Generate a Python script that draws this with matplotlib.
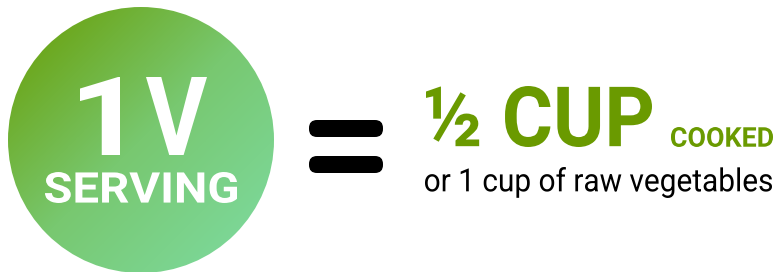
import numpy as np
import matplotlib
matplotlib.use('Agg')
import matplotlib.pyplot as plt
from matplotlib.patches import Circle, FancyBboxPatch, PathPatch
from matplotlib.colors import LinearSegmentedColormap
from matplotlib.textpath import TextPath
from matplotlib.font_manager import FontProperties
from matplotlib.transforms import Affine2D

# texts and colours
big_label = ['1', 'V']
small_label = 'SERVING'
amount = '½ CUP'
amount_note = 'COOKED'
sub_line = 'or 1 cup of raw vegetables'
green = '#6a9a00'
grad_colors = ['#689c00', '#78c870', '#7edca4']

fig = plt.figure(figsize=(7.8, 2.72), dpi=100)
ax = fig.add_axes([0, 0, 1, 1])
ax.set_xlim(0, 780)
ax.set_ylim(272, 0)
ax.axis('off')

# gradient circle
cx, cy, r = 141, 140, 133
cmap = LinearSegmentedColormap.from_list('g', grad_colors)
xx, yy = np.meshgrid(np.linspace(0, 1, 300), np.linspace(0, 1, 300))
grad = (xx + yy) / 2
im = ax.imshow(grad, cmap=cmap, extent=[cx - r, cx + r, cy + r, cy - r], origin='upper', zorder=1)
clip = Circle((cx, cy), r, transform=ax.transData, facecolor='none', edgecolor='none')
ax.add_patch(clip)
im.set_clip_path(clip)


# text drawn as a path, stretched into the box (x0..x1, top..bottom of ink)
def box_text(txt, x0, x1, top, bottom, color, family='Roboto', weight='bold'):
    fp = FontProperties(family=family, weight=weight)
    tp = TextPath((0, 0), txt, size=10, prop=fp)
    b = tp.get_extents()
    sx = (x1 - x0) / b.width
    sy = (bottom - top) / b.height
    tr = Affine2D().translate(-b.x0, -b.y0).scale(sx, -sy).translate(x0, bottom)
    ax.add_patch(PathPatch(tr.transform_path(tp), facecolor=color, edgecolor='none',
                           lw=0, zorder=3))

box_text(big_label[0], 80, 120, 77, 155, 'white')
box_text(big_label[1], 146, 207, 77, 155, 'white')
box_text(small_label, 45, 237, 172, 203, 'white')

# equals sign
for y in (120, 156):
    ax.add_patch(FancyBboxPatch((317, y + 8), 58, 1, boxstyle='round,pad=8',
                                facecolor='black', edgecolor='none', zorder=3))

box_text(amount, 426, 652, 86, 147, green)
box_text(amount_note, 671, 773, 127, 147, green)
box_text(sub_line, 425, 772, 167, 198, 'black', weight='normal')

fig.savefig('out.png', dpi=100)
